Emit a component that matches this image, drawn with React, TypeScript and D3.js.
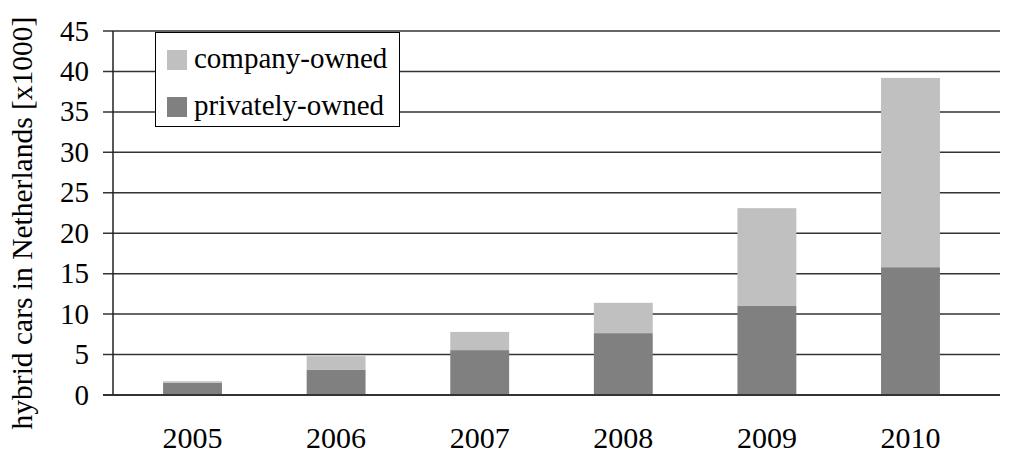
import { useEffect, useRef } from "react";
import * as d3 from "d3";

const years = ["2005", "2006", "2007", "2008", "2009", "2010"];
const privatelyOwned = [1.5, 3.1, 5.55, 7.65, 11.0, 15.8];
const companyOwned = [0.2, 1.7, 2.25, 3.75, 12.1, 23.4];
const yTicks = [0, 5, 10, 15, 20, 25, 30, 35, 40, 45];

const seriesNames = ["company-owned", "privately-owned"];
const seriesColors = ["#c0c0c0", "#808080"];

const WIDTH = 1010;
const HEIGHT = 455;
const FONT = "'Liberation Serif', 'Times New Roman', serif";

export default function App() {
  const svgRef = useRef<SVGSVGElement>(null);

  useEffect(() => {
    if (!svgRef.current) return;
    const svg = d3.select(svgRef.current);
    svg.selectAll("*").remove();

    const left = 113;
    const right = 1000;
    const top = 31;
    const bottom = 395;

    const x = d3.scaleBand<string>().domain(years).range([120, 983]).paddingInner(0.59).paddingOuter(0.3);
    const y = d3.scaleLinear().domain([0, 45]).range([bottom, top]);

    const rows = years.map((yr, i) => ({
      year: yr,
      privatelyOwned: privatelyOwned[i],
      companyOwned: companyOwned[i],
    }));
    const stack = d3.stack<any>().keys(["privatelyOwned", "companyOwned"]);
    const stacked = stack(rows);

    // gridlines + ticks
    svg
      .append("g")
      .selectAll("line")
      .data(yTicks)
      .enter()
      .append("line")
      .attr("x1", left - 10)
      .attr("x2", right)
      .attr("y1", (d) => y(d))
      .attr("y2", (d) => y(d))
      .attr("stroke", "#333")
      .attr("stroke-width", 1.5);

    // bars
    const colorFor: Record<string, string> = {
      privatelyOwned: seriesColors[1],
      companyOwned: seriesColors[0],
    };
    stacked.forEach((layer) => {
      svg
        .append("g")
        .selectAll("rect")
        .data(layer)
        .enter()
        .append("rect")
        .attr("x", (d: any) => x(d.data.year)!)
        .attr("width", x.bandwidth())
        .attr("y", (d: any) => y(d[1]))
        .attr("height", (d: any) => y(d[0]) - y(d[1]))
        .attr("fill", colorFor[layer.key]);
    });

    // zero line and y axis line
    svg
      .append("line")
      .attr("x1", left - 10)
      .attr("x2", right)
      .attr("y1", y(0))
      .attr("y2", y(0))
      .attr("stroke", "#333")
      .attr("stroke-width", 2);
    svg
      .append("line")
      .attr("x1", left)
      .attr("x2", left)
      .attr("y1", y(45))
      .attr("y2", y(0))
      .attr("stroke", "#222")
      .attr("stroke-width", 1.5);

    // y tick labels
    svg
      .append("g")
      .selectAll("text")
      .data(yTicks)
      .enter()
      .append("text")
      .attr("x", 89)
      .attr("y", (d) => y(d))
      .attr("dy", "0.33em")
      .attr("text-anchor", "end")
      .attr("font-family", FONT)
      .attr("font-size", 29)
      .attr("fill", "#000")
      .text((d) => d);

    // x labels
    svg
      .append("g")
      .selectAll("text")
      .data(years)
      .enter()
      .append("text")
      .attr("x", (d) => x(d)! + x.bandwidth() / 2)
      .attr("y", 448)
      .attr("text-anchor", "middle")
      .attr("font-family", FONT)
      .attr("font-size", 30)
      .attr("fill", "#000")
      .text((d) => d);

    // y title
    svg
      .append("text")
      .attr("transform", `translate(32, 223) rotate(-90)`)
      .attr("text-anchor", "middle")
      .attr("font-family", FONT)
      .attr("font-size", 29.5)
      .attr("fill", "#000")
      .text("hybrid cars in Netherlands [x1000]");

    // legend
    const lg = svg.append("g");
    lg.append("rect")
      .attr("x", 155.5)
      .attr("y", 32.5)
      .attr("width", 244)
      .attr("height", 94)
      .attr("fill", "#fff")
      .attr("stroke", "#000")
      .attr("stroke-width", 1);
    seriesNames.forEach((name, i) => {
      lg.append("rect")
        .attr("x", 167)
        .attr("y", 50 + i * 47)
        .attr("width", 20)
        .attr("height", 20)
        .attr("fill", seriesColors[i]);
      lg.append("text")
        .attr("x", 194)
        .attr("y", 68 + i * 47)
        .attr("font-family", FONT)
        .attr("font-size", 29)
        .attr("fill", "#000")
        .text(name);
    });
  }, []);

  return (
    <svg
      ref={svgRef}
      width={WIDTH}
      height={HEIGHT}
      style={{ position: "absolute", left: 0, top: 0, background: "#fff" }}
    />
  );
}
